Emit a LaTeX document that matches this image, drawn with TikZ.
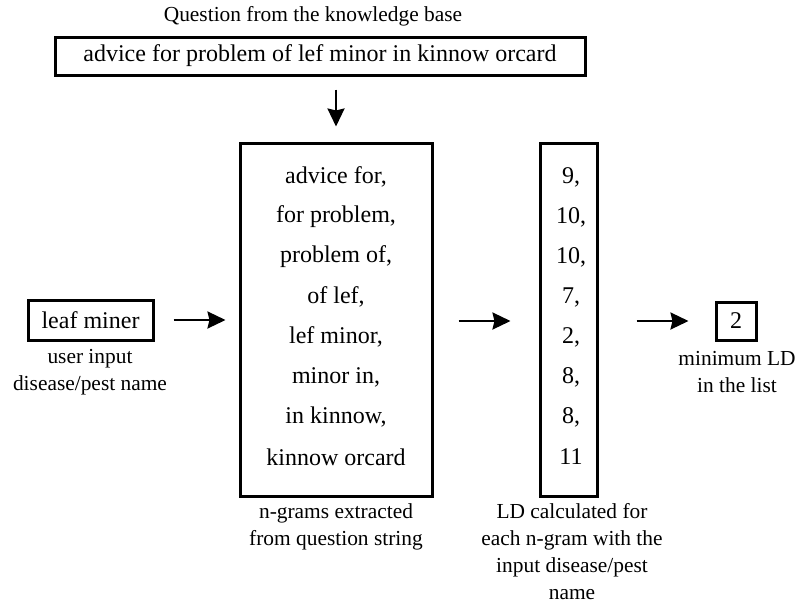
\documentclass[tikz,border=0pt]{standalone}
\usepackage{fontspec}
\setmainfont{Liberation Serif}
\usetikzlibrary{arrows.meta}
\tikzset{
  box/.style={draw, line width=3pt, inner sep=0pt},
  big/.style={font=\fontsize{24}{28}\selectfont, inner sep=0pt},
  captxt/.style={font=\fontsize{21.4}{27}\selectfont, inner sep=0pt, align=center},
  arr/.style={line width=2.3pt, -{Stealth[length=18pt,width=17pt,inset=2pt]}}
}
\begin{document}
\begin{tikzpicture}[x=1pt,y=-1pt]
\useasboundingbox (0,0) rectangle (795,603);

% question and its box
\node[captxt] (qcap) at (313,16) {Question from the knowledge base};
\node[box, big, minimum width=530pt, minimum height=38pt] (q) at (320,56)
  {advice for problem of lef minor in kinnow orcard};

% n-gram column
\node[box, minimum width=192pt, minimum height=353pt] (ng) at (336,319.5) {};
\node[big] (g1) at (336,177) {advice for,};
\node[big] (g2) at (336,217) {for problem,};
\node[big] (g3) at (336,257) {problem of,};
\node[big] (g4) at (336,297) {of lef,};
\node[big] (g5) at (336,337) {lef minor,};
\node[big] (g6) at (336,377) {minor in,};
\node[big] (g7) at (336,417) {in kinnow,};
\node[big] (g8) at (336,457) {kinnow orcard};
\node[captxt] (ngcap) at (336,527) {n-grams extracted\\from question string};

% distance column
\node[box, minimum width=57pt, minimum height=353pt] (ld) at (568.5,319.5) {};
\node[big] (d1) at (571,177) {9,};
\node[big] (d2) at (571,217) {10,};
\node[big] (d3) at (571,257) {10,};
\node[big] (d4) at (571,297) {7,};
\node[big] (d5) at (571,337) {2,};
\node[big] (d6) at (571,377) {8,};
\node[big] (d7) at (571,417) {8,};
\node[big] (d8) at (571,457) {11};
\node[captxt] (ldcap) at (572,552) {LD calculated for\\each n-gram with the\\input disease/pest\\name};

% user input
\node[box, big, minimum width=125pt, minimum height=40pt] (leaf) at (90.5,320) {leaf miner};
\node[captxt] (leafcap) at (90,372) {user input\\disease/pest name};

% result
\node[box, big, minimum width=40pt, minimum height=38pt] (two) at (736,321) {2};
\node[captxt] (twocap) at (737,372) {minimum LD\\in the list};

% connectors
\draw[arr, shorten <=13pt, shorten >=15pt] (q.south -| ng.north) -- (ng.north);
\draw[arr, shorten <=19pt, shorten >=13pt] (leaf.east) -- (leaf.east -| ng.west);
\draw[arr, shorten <=25pt, shorten >=28pt] (ng.east |- two.west) -- (ld.west |- two.west);
\draw[arr, shorten <=38pt, shorten >=26pt] (ld.east |- two.west) -- (two.west);
\end{tikzpicture}
\end{document}
